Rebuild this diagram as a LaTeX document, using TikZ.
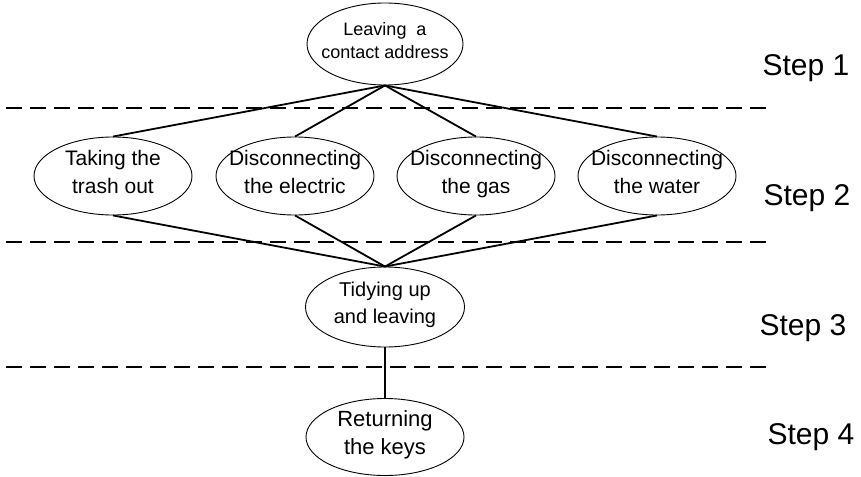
\documentclass[tikz,border=0pt]{standalone}
\usepackage{fontspec}
\setmainfont{Liberation Sans}
\usetikzlibrary{shapes.geometric}

\begin{document}
\begin{tikzpicture}[
    x=1pt, y=-1pt,
    task/.style={draw, ellipse, line width=0.9pt, inner sep=-20pt,
                 minimum width=158pt, minimum height=78pt, align=center,
                 execute at begin node=\strut,
                 execute at end node={\rule[-4pt]{0pt}{4pt}},
                 font=\fontsize{21}{28}\selectfont},
    steplabel/.style={font=\fontsize{30}{32}\selectfont},
    sep/.style={line width=2pt, dash pattern=on 16pt off 8pt},
    link/.style={line width=1.8pt}
  ]
  \useasboundingbox (0,0) rectangle (861,476);

  % separators between the steps
  \foreach \y in {108, 242, 367}
    \draw[sep] (6,\y) -- (766,\y);

  % Step 1
  \node[task, minimum width=156pt, minimum height=82pt,
        font=\fontsize{18}{23}\selectfont] (addr) at (385,44)
        {Leaving\ \ a\\contact address};

  % Step 2
  \foreach \x/\n/\t in {113/trash/{Taking the\\trash out},
                        295/elec/{Disconnecting\\the electric},
                        476/gas/{Disconnecting\\the gas},
                        657/water/{Disconnecting\\the water}} {
    \node[task] (\n) at (\x,176) {\t};
    \draw[link] (addr.south) -- (\n.north);
  }

  % Step 3 and 4
  \node[task, minimum width=159pt, minimum height=80pt,
        font=\fontsize{20}{27}\selectfont] (tidy) at (385,307)
        {Tidying up\\and leaving};
  \node[task, minimum height=77pt,
        font=\fontsize{22}{28}\selectfont] (keys) at (385,437)
        {Returning\\the keys};

  \foreach \n in {trash, elec, gas, water}
    \draw[link] (\n.south) -- (tidy.north);
  \draw[line width=1.3pt] (tidy.south) -- (keys.north);

  % step labels
  \foreach \x/\y/\k in {806/68/1, 807/198/2, 803/328/3, 811/437/4}
    \node[steplabel] (step\k) at (\x,\y) {Step \k};
\end{tikzpicture}
\end{document}
